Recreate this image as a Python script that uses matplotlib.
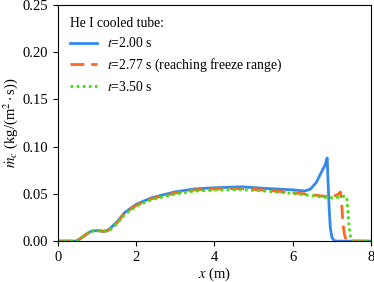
import numpy as np
import matplotlib
matplotlib.use('Agg')
import matplotlib.pyplot as plt

plt.rcParams['font.family'] = ['Liberation Serif', 'DejaVu Serif']
plt.rcParams['mathtext.fontset'] = 'stix'
plt.rcParams['font.size'] = 10.5

# t = 2.00 s
x_a = [0.0, 0.45, 0.55, 0.65, 0.75, 0.85, 0.95, 1.05, 1.15, 1.25, 1.35, 1.5, 1.7, 2.0,
       2.4, 3.0, 3.5, 4.0, 4.7, 5.3, 6.0, 6.3, 6.45, 6.6, 6.72, 6.82, 6.88, 6.9, 6.93,
       6.96, 7.0, 7.05, 7.1, 8.0]
y_a = [0.0, 0.0, 0.002, 0.005, 0.008, 0.0105, 0.011, 0.011, 0.0102, 0.011, 0.014, 0.02,
       0.03, 0.039, 0.046, 0.0522, 0.0553, 0.0565, 0.0575, 0.0558, 0.0543, 0.053, 0.055,
       0.062, 0.072, 0.08, 0.088, 0.065, 0.035, 0.014, 0.004, 0.001, 0.0, 0.0]

# t = 2.77 s
x_b = [0.0, 0.45, 0.55, 0.65, 0.75, 0.85, 0.95, 1.05, 1.15, 1.25, 1.35, 1.5, 1.7, 2.0,
       2.4, 3.0, 3.5, 4.0, 4.7, 5.3, 6.0, 6.5, 6.9, 7.05, 7.15, 7.22, 7.25, 7.28, 7.32,
       7.37, 7.45, 8.0]
y_b = [0.0, 0.0, 0.002, 0.005, 0.008, 0.0105, 0.011, 0.011, 0.0105, 0.0108, 0.013, 0.019,
       0.029, 0.038, 0.045, 0.051, 0.0543, 0.0553, 0.0557, 0.054, 0.0513, 0.049, 0.047,
       0.0475, 0.0495, 0.052, 0.04, 0.02, 0.007, 0.001, 0.0, 0.0]

# t = 3.50 s
x_c = [0.0, 0.45, 0.55, 0.65, 0.75, 0.85, 0.95, 1.05, 1.15, 1.25, 1.35, 1.5, 1.7, 2.0,
       2.4, 3.0, 3.5, 4.0, 4.7, 5.3, 6.0, 6.5, 6.9, 7.1, 7.25, 7.35, 7.38, 7.41, 7.44,
       7.48, 7.53, 8.0]
y_c = [0.0, 0.0, 0.002, 0.005, 0.008, 0.0105, 0.011, 0.011, 0.0105, 0.0108, 0.0125, 0.018,
       0.028, 0.037, 0.044, 0.05, 0.053, 0.054, 0.0545, 0.053, 0.0505, 0.048, 0.046, 0.046,
       0.047, 0.048, 0.046, 0.03, 0.015, 0.004, 0.0, 0.0]

fig, ax = plt.subplots(figsize=(3.74, 2.82), dpi=100)
ax.plot(x_a, y_a, color='#3388ee', lw=2.0, label=r'$t$=2.00 s')
ax.plot(x_b, y_b, color='#ff6622', lw=2.0, ls=(0, (5, 2.5)), label=r'$t$=2.77 s (reaching freeze range)')
ax.plot(x_c, y_c, color='#44dd11', lw=2.0, ls=(0, (1, 1.2)), label=r'$t$=3.50 s')

ax.set_xlim(0, 8)
ax.set_ylim(0, 0.25)
ax.set_xticks([0, 2, 4, 6, 8])
ax.set_yticks([0, 0.05, 0.10, 0.15, 0.20, 0.25])
ax.set_xlabel(r'$x$ (m)', labelpad=1)
ax.set_ylabel(r'$\dot{m}_c$ (kg/(m$^2\cdot$s))', labelpad=2)

leg = ax.legend(title='He I cooled tube:', loc='upper left', frameon=False,
                alignment='left', handlelength=2.0, handletextpad=0.7,
                labelspacing=0.45, borderaxespad=0.5, fontsize=9.8,
                title_fontsize=9.8)

fig.subplots_adjust(left=0.155, right=0.992, top=0.982, bottom=0.145)
fig.savefig('out.png', dpi=100)
